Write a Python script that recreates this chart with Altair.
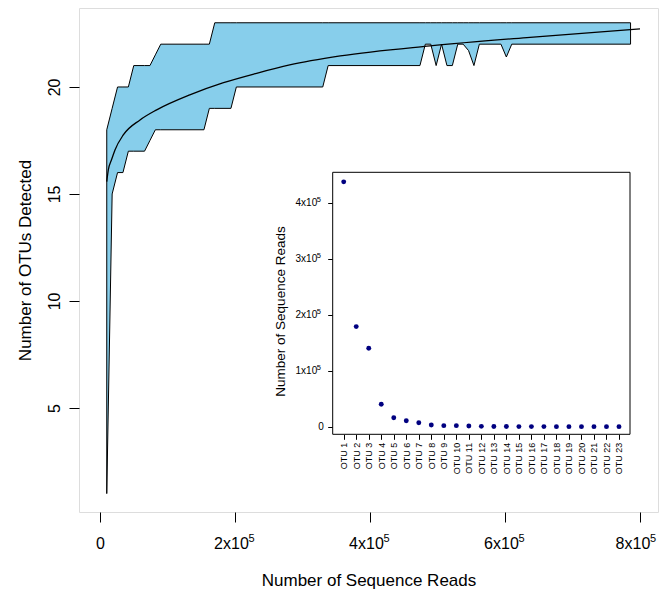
import altair as alt
import pandas as pd

# ---- main panel: rarefaction band (min / max OTUs detected) ----
band_x = [10000, 18000, 26000, 34000, 42000, 50000, 66000, 74000, 82000, 90000,
          154000, 162000, 170000, 194000, 202000, 330000, 338000, 474000, 482000,
          490000, 498000, 506000, 514000, 522000, 530000, 538000, 546000, 554000,
          562000, 594000, 602000, 610000, 786000]
band_upper = [18, 19, 20, 20, 20, 21, 21, 21, 21.5, 22,
              22, 22, 23, 23, 23, 23, 23, 23, 23,
              23, 23, 23, 23, 23, 23, 23, 23, 23,
              23, 23, 23, 23, 23]
band_lower = [1, 15, 16, 16, 17, 17, 17, 17.5, 18, 18,
              18, 19, 19, 19, 20, 20, 21, 21, 22,
              22, 21, 22, 21, 21, 22, 22, 21.7, 21,
              22, 22, 21.4, 22, 22]

# ---- main panel: mean curve ----
mean_x = [10000, 12300, 17300, 22200, 34500, 59300, 84000, 133000, 183000,
          232000, 281000, 356000, 489000, 637000, 800000]
mean_y = [15.58, 16.12, 16.62, 17.06, 17.76, 18.46, 18.93, 19.63, 20.2,
          20.64, 21.03, 21.45, 21.92, 22.32, 22.71]

# ---- inset: reads per OTU ----
otu_index = list(range(1, 24))
otu_reads = [437000, 178600, 140000, 40000, 16000, 10700, 7100, 3000, 1800, 1800,
             1200, 600, 300, 200, 150, 100, 100, 80, 60, 50, 40, 30, 20]

main_x_ticks = [0, 200000, 400000, 600000, 800000]
main_y_ticks = [5, 10, 15, 20]
inset_y_ticks = [0, 100000, 200000, 300000, 400000]
exponent_label = "5"

FONT = "Liberation Sans"
LAST_X = main_x_ticks[-1]

band_df = pd.DataFrame({"x": band_x, "upper": band_upper, "lower": band_lower})
mean_df = pd.DataFrame({"x": mean_x, "y": mean_y})
otu_df = pd.DataFrame({"otu": otu_index, "reads": otu_reads})
sup_main_df = pd.DataFrame({"v": [v for v in main_x_ticks if v not in (0, LAST_X)],
                            "t": exponent_label})
sup_last_df = pd.DataFrame({"v": [LAST_X], "t": exponent_label})
sup_inset_df = pd.DataFrame({"v": [v for v in inset_y_ticks if v != 0],
                             "t": exponent_label})

W, H = 579, 504
X_DOMAIN = [-31111, 826667]
xs = alt.Scale(domain=X_DOMAIN, nice=False, zero=False)
ys = alt.Scale(domain=[0.14, 23.69], nice=False, zero=False)

base_expr = "datum.value == 0 ? '0' : format(datum.value/100000, 'd') + 'x10'"
nonzero = "datum.value != 0"

x_axis = alt.Axis(
    values=main_x_ticks, domain=False, grid=False, tickSize=10, tickColor="black",
    labelExpr=base_expr,
    labelFont=FONT, labelFontSize=16, labelColor="black", labelBaseline="alphabetic",
    labelAlign={"condition": {"test": nonzero, "value": "right"}, "value": "center"},
    labelOffset={"condition": [
        {"test": f"datum.value == {LAST_X}", "value": 9.8},
        {"test": nonzero, "value": 13.3},
    ], "value": 0},
    labelPadding=26, labelFlush=False, labelOverlap=False,
    title="Number of Sequence Reads", titleFont=FONT, titleFontSize=17,
    titleFontWeight="normal", titleColor="black", titleY=73, titleBaseline="alphabetic",
)
y_axis = alt.Axis(
    values=main_y_ticks, domain=False, grid=False, tickSize=10, tickColor="black",
    labelFont=FONT, labelFontSize=16, labelColor="black", labelAngle=270,
    labelAlign="center", labelBaseline="alphabetic", labelPadding=10,
    title="Number of OTUs Detected", titleFont=FONT, titleFontSize=17,
    titleFontWeight="normal", titleColor="black", titleAngle=270, titleX=-49,
    titleY=H / 2, titleAlign="center", titleBaseline="alphabetic",
)

band = alt.Chart(band_df).mark_area(
    fill="#87CEEB", stroke="black", strokeWidth=1, opacity=1
).encode(
    x=alt.X("x:Q", scale=xs, axis=x_axis),
    y=alt.Y("upper:Q", scale=ys, axis=y_axis),
    y2="lower:Q",
)
mean = alt.Chart(mean_df).mark_line(
    color="black", strokeWidth=1.3, interpolate="monotone"
).encode(x="x:Q", y="y:Q")
main = alt.layer(band, mean)


def sup_x(df, dx):
    return alt.Chart(df).mark_text(
        font=FONT, fontSize=11, color="black", align="left", baseline="alphabetic",
        dx=dx
    ).encode(
        x=alt.X("v:Q", scale=alt.Scale(domain=X_DOMAIN, nice=False, zero=False),
                axis=None),
        y=alt.value(H + 30),
        text="t:N",
    )


# superscript exponents of the main x tick labels
sup_main = sup_x(sup_main_df, 13.5)
sup_last = sup_x(sup_last_df, 10.0)

# inset geometry (pixels inside the main plot area)
IX0, IX1 = 253.7, 551.0
IY0, IY1 = 164.3, 426.3
I_DOMAIN_Y = [-13600, 454000]

frame = alt.Chart(pd.DataFrame({"a": [0]})).mark_rect(
    fill="white", stroke="black", strokeWidth=1
).encode(
    x=alt.value(IX0), x2=alt.value(IX1), y=alt.value(IY0), y2=alt.value(IY1)
)

ix = alt.Scale(domain=[0.12, 23.88], range=[IX0, IX1], nice=False, zero=False)
iy = alt.Scale(domain=I_DOMAIN_Y, range=[IY1, IY0], nice=False, zero=False)

inset_x_axis = alt.Axis(
    orient="bottom", offset=-(H - IY1), values=otu_index, domain=False, grid=False,
    tickSize=5, tickColor="black", labelExpr="'OTU ' + datum.value",
    labelFont=FONT, labelFontSize=9, labelColor="black", labelAngle=270,
    labelAlign="right", labelBaseline="middle", labelPadding=3, labelFlush=False,
    labelOverlap=False, title=None,
)
inset_y_axis = alt.Axis(
    orient="left", offset=-IX0, values=inset_y_ticks, domain=False, grid=False,
    tickSize=5, tickColor="black",
    labelExpr=base_expr,
    labelFont=FONT, labelFontSize=10, labelColor="black", labelAngle=0,
    labelAlign="right", labelBaseline="middle",
    labelPadding={"condition": {"test": nonzero, "value": 11}, "value": 4.5},
    labelFlush=False, labelOverlap=False,
    title="Number of Sequence Reads", titleFont=FONT, titleFontSize=13.5,
    titleFontWeight="normal", titleColor="black", titleAngle=270, titleX=-48,
    titleY=303, titleAlign="center", titleBaseline="alphabetic",
)

pts = alt.Chart(otu_df).mark_circle(color="#000080", size=24, opacity=1).encode(
    x=alt.X("otu:Q", scale=ix, axis=inset_x_axis),
    y=alt.Y("reads:Q", scale=iy, axis=inset_y_axis),
)
inset = alt.layer(frame, pts)

# superscript exponents of the inset y tick labels
sup_inset = alt.Chart(sup_inset_df).mark_text(
    font=FONT, fontSize=7.5, color="black", align="left", baseline="alphabetic", dy=-1
).encode(
    x=alt.value(IX0 - 16),
    y=alt.Y("v:Q", scale=alt.Scale(domain=I_DOMAIN_Y, range=[IY1, IY0], nice=False,
                                   zero=False), axis=None),
    text="t:N",
)

chart = alt.layer(main, inset, sup_main, sup_last, sup_inset).resolve_scale(
    x="independent", y="independent"
).properties(
    width=W, height=H,
    autosize=alt.AutoSizeParams(type="none"),
    padding={"left": 71, "top": 0, "right": 1, "bottom": 77},
).configure_view(
    stroke="black", strokeWidth=1
).configure(background="white")

chart.save("out.html", embed_options={"renderer": "svg", "actions": False})
